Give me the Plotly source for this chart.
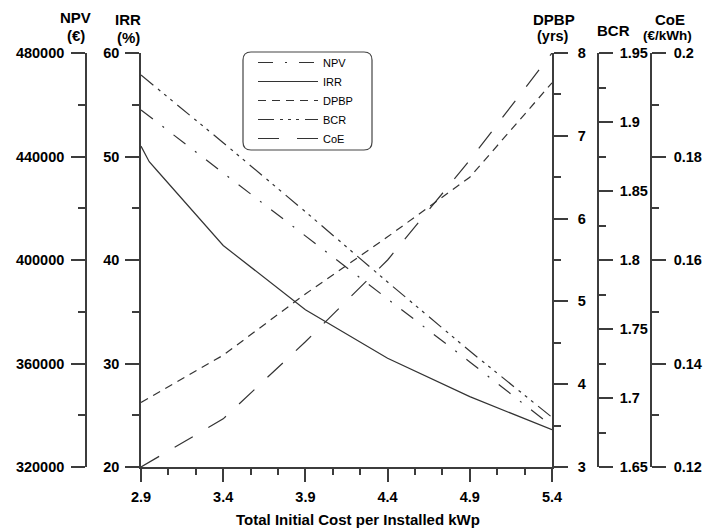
import plotly.graph_objects as go

# ---------------- data ----------------
X = [2.9, 3.4, 3.9, 4.4, 4.9, 5.4]
NPV = [458000, 433600, 409300, 384900, 360600, 335800]
IRR_X = [2.9, 2.95, 3.0, 3.4, 3.9, 4.4, 4.9, 5.4]
IRR = [51.0, 49.5, 48.6, 41.4, 35.2, 30.5, 26.8, 23.6]
DPBP = [3.78, 4.35, 5.09, 5.78, 6.50, 7.64]
BCR = [1.934, 1.885, 1.835, 1.784, 1.734, 1.686]
COE = [0.120, 0.1293, 0.1442, 0.160, 0.1793, 0.200]
SERIES_NAMES = ["NPV", "IRR", "DPBP", "BCR", "CoE"]
X_TITLE = "Total Initial Cost per Installed kWp"

# ---------------- layout helpers ----------------
W, H = 704, 531
def px(x):
    return x / W
def py(y):
    return 1 - y / H

FONT = "Liberation Sans, Arial, Helvetica, sans-serif"
LC = "#333333"   # line colour
AC = "#3c3c3c"   # axis colour
TICKFONT = dict(family=FONT, size=14.5, color="black", weight="bold")

fig = go.Figure()
fig.add_trace(go.Scatter(x=X, y=NPV, yaxis="y2", name=SERIES_NAMES[0], mode="lines",
                         line=dict(color=LC, width=1.2, dash="15px,12px,2px,12px")))
fig.add_trace(go.Scatter(x=IRR_X, y=IRR, yaxis="y", name=SERIES_NAMES[1], mode="lines",
                         line=dict(color=LC, width=1.2)))
fig.add_trace(go.Scatter(x=X, y=DPBP, yaxis="y3", name=SERIES_NAMES[2], mode="lines",
                         line=dict(color=LC, width=1.2, dash="8px,6px")))
fig.add_trace(go.Scatter(x=X, y=BCR, yaxis="y4", name=SERIES_NAMES[3], mode="lines",
                         line=dict(color=LC, width=1.2, dash="16px,6px,3px,5px,3px,5px,3px,6px")))
fig.add_trace(go.Scatter(x=X, y=COE, yaxis="y5", name=SERIES_NAMES[4], mode="lines",
                         line=dict(color=LC, width=1.2, dash="21px,18px")))

YD = [py(467), py(53)]

def yaxis(rng, dtick, mdtick, side, **kw):
    d = dict(domain=YD, range=rng, tick0=rng[0], dtick=dtick, side=side,
             showgrid=False, zeroline=False, showline=True, linecolor=AC, linewidth=1.6,
             ticks="outside", ticklen=14, tickwidth=1.6, tickcolor=AC, tickfont=TICKFONT,
             minor=dict(ticks="outside", ticklen=7, tickwidth=1.6, tickcolor=AC,
                        dtick=mdtick, tick0=rng[0], showgrid=False),
             fixedrange=True, automargin=False)
    d.update(kw)
    return d

fig.update_layout(
    width=W, height=H,
    margin=dict(l=0, r=0, t=0, b=0, autoexpand=False),
    paper_bgcolor="white", plot_bgcolor="white",
    xaxis=dict(domain=[px(141), px(552)], range=[2.9, 5.4], tick0=2.9, dtick=0.5,
               showgrid=False, zeroline=False, showline=True, linecolor=AC, linewidth=1.6,
               ticks="outside", ticklen=13, tickwidth=1.6, tickcolor=AC, tickfont=TICKFONT,
               minor=dict(ticks="outside", ticklen=6, tickwidth=1.6, tickcolor=AC,
                          dtick=0.5 / 3, tick0=2.9, showgrid=False),
               anchor="y", fixedrange=True, automargin=False, ticklabelstandoff=3),
    yaxis=yaxis([20, 60], 10, 5, "left", anchor="x", ticklabelstandoff=3),
    yaxis2=yaxis([320000, 480000], 40000, 20000, "left", anchor="free",
                 position=px(86), overlaying="y", tickformat="d", ticklabelstandoff=4),
    yaxis3=yaxis([3, 8], 1, 0.5, "right", anchor="x", overlaying="y", ticklabelstandoff=7),
    yaxis4=yaxis([1.65, 1.95], 0.05, 0.025, "right", anchor="free",
                 position=px(598), overlaying="y", ticklabelstandoff=4),
    yaxis5=yaxis([0.12, 0.2], 0.02, 0.01, "right", anchor="free",
                 position=px(651), overlaying="y", ticklabelstandoff=5),
    showlegend=True,
    legend=dict(x=px(253), y=py(48), xanchor="left", yanchor="top",
                bgcolor="rgba(0,0,0,0)", borderwidth=0, itemwidth=60,
                font=dict(family=FONT, size=11, color="black"), tracegroupgap=0,
                itemclick=False, itemdoubleclick=False),
)

# axis titles
def ann(text, x, y, size=15):
    fig.add_annotation(text=text, x=px(x), y=py(y), xref="paper", yref="paper",
                       xanchor="center", yanchor="middle", showarrow=False,
                       font=dict(family=FONT, size=size, color="black", weight="bold"))

ann("NPV", 75, 17.5)
ann("(€)", 75.5, 35)
ann("IRR", 128, 19.5)
ann("(%)", 128, 37)
ann("DPBP", 554, 20)
ann("(yrs)", 553, 36.5, 14.5)
ann("BCR", 613, 31)
ann("CoE", 670, 19.5)
ann("(€/kWh)", 667.5, 35.5, 13.5)
ann(X_TITLE, 358, 519)

# rounded legend frame
def rounded(x0, y0, x1, y1, r):
    pts = [("M", x0 + r, y0), ("L", x1 - r, y0), ("Q", x1, y0, x1, y0 + r),
           ("L", x1, y1 - r), ("Q", x1, y1, x1 - r, y1), ("L", x0 + r, y1),
           ("Q", x0, y1, x0, y1 - r), ("L", x0, y0 + r), ("Q", x0, y0, x0 + r, y0)]
    s = ""
    for p in pts:
        cmd = p[0]
        coords = p[1:]
        vals = []
        for i in range(0, len(coords), 2):
            vals.append(f"{px(coords[i]):.5f},{py(coords[i + 1]):.5f}")
        s += cmd + " ".join(vals) + " "
    return s + "Z"

fig.add_shape(type="path", path=rounded(243, 52, 372, 150, 8), xref="paper", yref="paper",
              line=dict(color="#444444", width=1.2), fillcolor="rgba(0,0,0,0)", layer="above")

fig.write_html("out.html")
